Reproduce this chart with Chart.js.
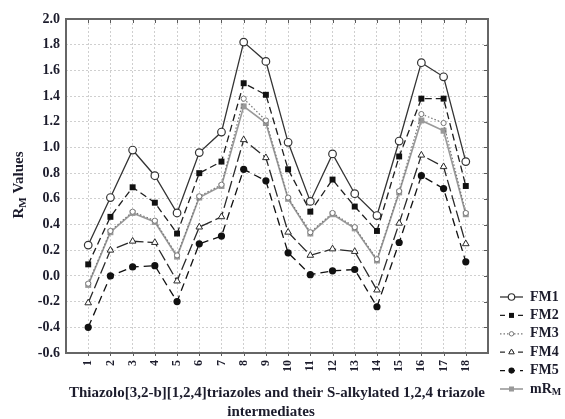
<!DOCTYPE html>
<html>
<head>
<meta charset="utf-8">
<script src="https://cdn.jsdelivr.net/npm/chart.js@4/dist/chart.umd.min.js"></script>
<style>
  html, body { margin: 0; padding: 0; background: #fff; }
  #wrap { width: 565px; height: 419px; position: relative; }
</style>
</head>
<body>
<div id="wrap"><canvas id="rmChart" width="565" height="419"></canvas></div>
<script>
const categories = [1, 2, 3, 4, 5, 6, 7, 8, 9, 10, 11, 12, 13, 14, 15, 16, 17, 18];
const yTicks = [-0.6, -0.4, -0.2, 0.0, 0.2, 0.4, 0.6, 0.8, 1.0, 1.2, 1.4, 1.6, 1.8, 2.0];

const fm1 = [0.24, 0.61, 0.98, 0.78, 0.49, 0.96, 1.12, 1.82, 1.67, 1.04, 0.58, 0.95, 0.64, 0.47, 1.05, 1.66, 1.55, 0.89];
const fm2 = [0.09, 0.46, 0.69, 0.57, 0.33, 0.80, 0.89, 1.50, 1.41, 0.83, 0.50, 0.75, 0.54, 0.35, 0.93, 1.38, 1.38, 0.70];
const fm3 = [-0.06, 0.35, 0.50, 0.43, 0.16, 0.62, 0.71, 1.38, 1.21, 0.61, 0.34, 0.49, 0.38, 0.13, 0.66, 1.26, 1.19, 0.49];
const fm4 = [-0.21, 0.20, 0.27, 0.26, -0.04, 0.38, 0.46, 1.06, 0.92, 0.34, 0.16, 0.21, 0.19, -0.11, 0.41, 0.94, 0.85, 0.25];
const fm5 = [-0.40, 0.00, 0.07, 0.08, -0.20, 0.25, 0.31, 0.83, 0.74, 0.18, 0.01, 0.04, 0.05, -0.24, 0.26, 0.78, 0.68, 0.11];
const mrm = [-0.07, 0.34, 0.49, 0.42, 0.15, 0.61, 0.70, 1.32, 1.19, 0.60, 0.33, 0.48, 0.37, 0.12, 0.65, 1.21, 1.13, 0.48];

const xTitle = ["Thiazolo[3,2-b][1,2,4]triazoles and their S-alkylated 1,2,4 triazole", "intermediates"];

const SERIF = "'Liberation Serif', 'Times New Roman', serif";
const TEXT = "#1c1c2c";

function pts(vals) {
  return vals.map((v, i) => ({ x: categories[i], y: v }));
}

const datasets = [
  { label: "FM1", data: pts(fm1), borderColor: "#333", borderWidth: 1.3, borderDash: [],
    pointStyle: "circle", pointRadius: 3.8, pointBackgroundColor: "#fff", pointBorderColor: "#333", pointBorderWidth: 1.2 },
  { label: "FM2", data: pts(fm2), borderColor: "#1e1e1e", borderWidth: 1.3, borderDash: [7, 4],
    pointStyle: "rect", pointRadius: 4.2, pointBackgroundColor: "#111", pointBorderColor: "#111", pointBorderWidth: 0 },
  { label: "FM3", data: pts(fm3), borderColor: "#777", borderWidth: 1.2, borderDash: [1.5, 2],
    pointStyle: "circle", pointRadius: 2.6, pointBackgroundColor: "#fff", pointBorderColor: "#777", pointBorderWidth: 1 },
  { label: "FM4", data: pts(fm4), borderColor: "#2a2a2a", borderWidth: 1.3, borderDash: [12, 4],
    pointStyle: "triangle", pointRadius: 3.8, pointBackgroundColor: "#fff", pointBorderColor: "#2a2a2a", pointBorderWidth: 1 },
  { label: "FM5", data: pts(fm5), borderColor: "#111", borderWidth: 1.3, borderDash: [8, 5],
    pointStyle: "circle", pointRadius: 3.6, pointBackgroundColor: "#111", pointBorderColor: "#111", pointBorderWidth: 0 },
  { label: "mRM", data: pts(mrm), borderColor: "#9a9a9a", borderWidth: 1.6, borderDash: [],
    pointStyle: "rect", pointRadius: 4.2, pointBackgroundColor: "#999", pointBorderColor: "#999", pointBorderWidth: 0 },
];

// text with a subscript, drawn starting at x (textAlign left, baseline middle)
function subText(ctx, parts, x, y, size) {
  let cx = x;
  parts.forEach(p => {
    ctx.font = "bold " + (p.sub ? Math.round(size * 0.7) : size) + "px " + SERIF;
    ctx.fillText(p.t, cx, y + (p.sub ? size * 0.28 : 0));
    cx += ctx.measureText(p.t).width;
  });
}
function subWidth(ctx, parts, size) {
  let w = 0;
  parts.forEach(p => {
    ctx.font = "bold " + (p.sub ? Math.round(size * 0.7) : size) + "px " + SERIF;
    w += ctx.measureText(p.t).width;
  });
  return w;
}

const framePlugin = {
  id: "frame",
  beforeDatasetsDraw(chart) {
    const { ctx, chartArea: a, scales } = chart;
    ctx.save();
    ctx.strokeStyle = "#5a5a5a";
    ctx.lineWidth = 1;
    // inward ticks on top and right sides, short outward ticks at the bottom
    ctx.beginPath();
    categories.forEach(c => {
      const x = Math.round(scales.x.getPixelForValue(c)) + 0.5;
      ctx.moveTo(x, a.top);
      ctx.lineTo(x, a.top + 4);
      ctx.moveTo(x, a.bottom);
      ctx.lineTo(x, a.bottom + 3);
    });
    yTicks.forEach(v => {
      const y = Math.round(scales.y.getPixelForValue(v)) + 0.5;
      ctx.moveTo(a.right, y);
      ctx.lineTo(a.right - 4, y);
    });
    ctx.stroke();
    ctx.lineWidth = 2;
    ctx.strokeStyle = "#666";
    ctx.strokeRect(a.left, a.top, a.right - a.left, a.bottom - a.top);
    ctx.restore();
  },
  afterDraw(chart) {
    const { ctx, chartArea: a } = chart;
    ctx.save();
    ctx.fillStyle = TEXT;
    ctx.textBaseline = "middle";

    // y axis title
    const yParts = [{ t: "R" }, { t: "M", sub: true }, { t: " Values" }];
    ctx.translate(19, 185);
    ctx.rotate(-Math.PI / 2);
    ctx.textAlign = "left";
    const yw = subWidth(ctx, yParts, 15);
    subText(ctx, yParts, -yw / 2, 0, 15);
    ctx.setTransform(1, 0, 0, 1, 0, 0);

    // x axis title, two lines
    ctx.textAlign = "center";
    ctx.font = "bold 15px " + SERIF;
    ctx.fillText(xTitle[0], 277, 393, 416);
    ctx.fillText(xTitle[1], 271, 412);

    // legend
    const lx = 500, lw = 23;
    chart.data.datasets.forEach((ds, i) => {
      const y = 297 + i * 18.4;
      ctx.save();
      ctx.strokeStyle = ds.borderColor;
      ctx.lineWidth = ds.borderWidth;
      ctx.setLineDash(ds.borderDash.length ? [Math.min(ds.borderDash[0], 5), ds.borderDash[1]] : []);
      ctx.beginPath();
      ctx.moveTo(lx, y);
      ctx.lineTo(lx + lw, y);
      ctx.stroke();
      ctx.setLineDash([]);
      ctx.fillStyle = ds.pointBackgroundColor;
      ctx.strokeStyle = ds.pointBorderColor;
      ctx.lineWidth = ds.pointBorderWidth;
      Chart.helpers.drawPoint(ctx, {
        pointStyle: ds.pointStyle, radius: ds.pointRadius * 0.85, rotation: 0, borderWidth: ds.pointBorderWidth
      }, lx + lw / 2, y);
      ctx.restore();
      ctx.fillStyle = TEXT;
      ctx.textAlign = "left";
      if (ds.label === "mRM") {
        subText(ctx, [{ t: "mR" }, { t: "M", sub: true }], lx + 30, y, 14);
      } else {
        ctx.font = "bold 14px " + SERIF;
        ctx.fillText(ds.label, lx + 30, y);
      }
    });
    ctx.restore();
  }
};

const ctx = document.getElementById("rmChart").getContext("2d");
const chart = new Chart(ctx, {
  type: "line",
  data: { datasets: datasets },
  options: {
    responsive: false,
    animation: false,
    layout: { padding: { top: 19, right: 77, bottom: 0, left: 0 } },
    plugins: {
      legend: { display: false },
      tooltip: { enabled: false },
    },
    elements: { line: { tension: 0 } },
    scales: {
      x: {
        type: "linear",
        min: 0,
        max: 19,
        afterBuildTicks: function (scale) {
          scale.ticks = categories.map(c => ({ value: c }));
        },
        afterFit: function (scale) {
          scale.height = 66;
        },
        grid: { color: "#cfcfcf", lineWidth: 1, drawTicks: false },
        border: { display: false, dash: [2, 2] },
        ticks: {
          minRotation: 90,
          maxRotation: 90,
          padding: 7,
          color: TEXT,
          font: { family: SERIF, size: 12, weight: "bold" },
          callback: function (v) { return String(v); },
        },
      },
      y: {
        min: -0.6,
        max: 2.0,
        afterBuildTicks: function (scale) {
          scale.ticks = yTicks.map(v => ({ value: v }));
        },
        afterFit: function (scale) {
          scale.width = 66;
        },
        grid: { color: "#cfcfcf", lineWidth: 1, drawTicks: false },
        border: { display: false, dash: [2, 2] },
        ticks: {
          padding: 6,
          color: TEXT,
          font: { family: SERIF, size: 14, weight: "bold" },
          callback: function (v) { return Number(v).toFixed(1); },
        },
      },
    },
  },
  plugins: [framePlugin],
});
</script>
</body>
</html>
